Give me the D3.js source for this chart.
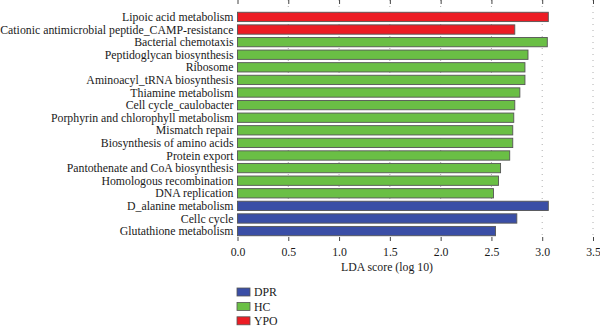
<!DOCTYPE html>
<html>
<head>
<meta charset="utf-8">
<script src="https://cdn.jsdelivr.net/npm/d3@7"></script>
<style>
  body { margin: 0; background: #fff; }
  text { font-family: "Liberation Serif", "DejaVu Serif", serif; fill: #1a1a1a; }
</style>
</head>
<body>
<div class="c_chart"></div>
<script>
/* pathways, top to bottom */
const pathways = [
  "Lipoic acid metabolism",
  "Cationic antimicrobial peptide_CAMP-resistance",
  "Bacterial chemotaxis",
  "Peptidoglycan biosynthesis",
  "Ribosome",
  "Aminoacyl_tRNA biosynthesis",
  "Thiamine metabolism",
  "Cell cycle_caulobacter",
  "Porphyrin and chlorophyll metabolism",
  "Mismatch repair",
  "Biosynthesis of amino acids",
  "Protein export",
  "Pantothenate and CoA biosynthesis",
  "Homologous recombination",
  "DNA replication",
  "D_alanine metabolism",
  "Cellc cycle",
  "Glutathione metabolism"
];
const groups = ["YPO", "YPO", "HC", "HC", "HC", "HC", "HC", "HC", "HC",
                "HC", "HC", "HC", "HC", "HC", "HC", "DPR", "DPR", "DPR"];
const ldaScores = [3.06, 2.73, 3.05, 2.86, 2.83, 2.83, 2.78, 2.73, 2.72,
                   2.71, 2.71, 2.68, 2.59, 2.57, 2.52, 3.06, 2.75, 2.54];
const legendGroups = ["DPR", "HC", "YPO"];
const xTicks = [0, 0.5, 1, 1.5, 2, 2.5, 3, 3.5];

const width = 600, height = 330;
const margin = {top: 11, left: 237.5, right: 7, bottom: 93};
const fontSize = 11.8;

const svg = d3.select(".c_chart").append("svg")
  .attr("width", width)
  .attr("height", height);

const x = d3.scaleLinear()
  .domain([0, 3.5])
  .range([margin.left, width - margin.right]);

const y = d3.scaleBand()
  .domain(pathways)
  .range([margin.top, height - margin.bottom])
  .paddingInner(0.26)
  .paddingOuter(0.1);

const color = d3.scaleOrdinal()
  .domain(["DPR", "HC", "YPO"])
  .range(["#3a4ea6", "#6abf45", "#ec1c24"]);

const plotBottom = height - margin.bottom;

/* dotted grid */
svg.append("g")
  .selectAll("line")
  .data(xTicks.filter(d => d > 0))
  .join("line")
  .attr("x1", d => x(d)).attr("x2", d => x(d))
  .attr("y1", 0).attr("y2", plotBottom)
  .attr("stroke", "#999")
  .attr("stroke-width", 0.8)
  .attr("stroke-dasharray", "1,5");

/* top and bottom axes, labels only at the bottom */
svg.append("g")
  .call(d3.axisBottom(x).tickValues(xTicks).tickSize(4).tickFormat(""))
  .call(g => g.select(".domain").remove())
  .call(g => g.selectAll("line").attr("stroke", "#444"));

svg.append("g")
  .attr("transform", `translate(0,${plotBottom})`)
  .call(d3.axisBottom(x).tickValues(xTicks).tickSize(4).tickFormat(d3.format(".1f")))
  .call(g => g.select(".domain").remove())
  .call(g => g.selectAll("line").attr("stroke", "#444"))
  .call(g => g.selectAll("text")
    .attr("font-size", fontSize)
    .attr("font-family", "Liberation Serif, serif")
    .attr("fill", "#1a1a1a")
    .attr("dy", "1.0em"));

/* bars */
svg.append("g")
  .selectAll("rect")
  .data(pathways)
  .join("rect")
  .attr("x", x(0))
  .attr("y", d => y(d))
  .attr("width", (d, i) => x(ldaScores[i]) - x(0))
  .attr("height", y.bandwidth())
  .attr("fill", (d, i) => color(groups[i]))
  .attr("stroke", "#555")
  .attr("stroke-width", 0.9);

/* pathway labels */
svg.append("g")
  .selectAll("text")
  .data(pathways)
  .join("text")
  .attr("x", x(0) - 4)
  .attr("y", d => y(d) + y.bandwidth() / 2)
  .attr("dy", "0.35em")
  .attr("text-anchor", "end")
  .attr("font-size", fontSize)
  .text(d => d);

/* axis title */
svg.append("text")
  .attr("x", 387)
  .attr("y", 271)
  .attr("text-anchor", "middle")
  .attr("font-size", fontSize)
  .text("LDA score (log 10)");

/* legend */
const legend = svg.append("g")
  .selectAll("g")
  .data(legendGroups)
  .join("g")
  .attr("transform", (d, i) => `translate(237,${292 + i * 14.4})`);

legend.append("rect")
  .attr("x", 0).attr("y", -4)
  .attr("width", 13).attr("height", 8)
  .attr("fill", d => color(d))
  .attr("stroke", "#555")
  .attr("stroke-width", 0.8);

legend.append("text")
  .attr("x", 17)
  .attr("dy", "0.35em")
  .attr("font-size", fontSize)
  .text(d => d);
</script>
</body>
</html>
